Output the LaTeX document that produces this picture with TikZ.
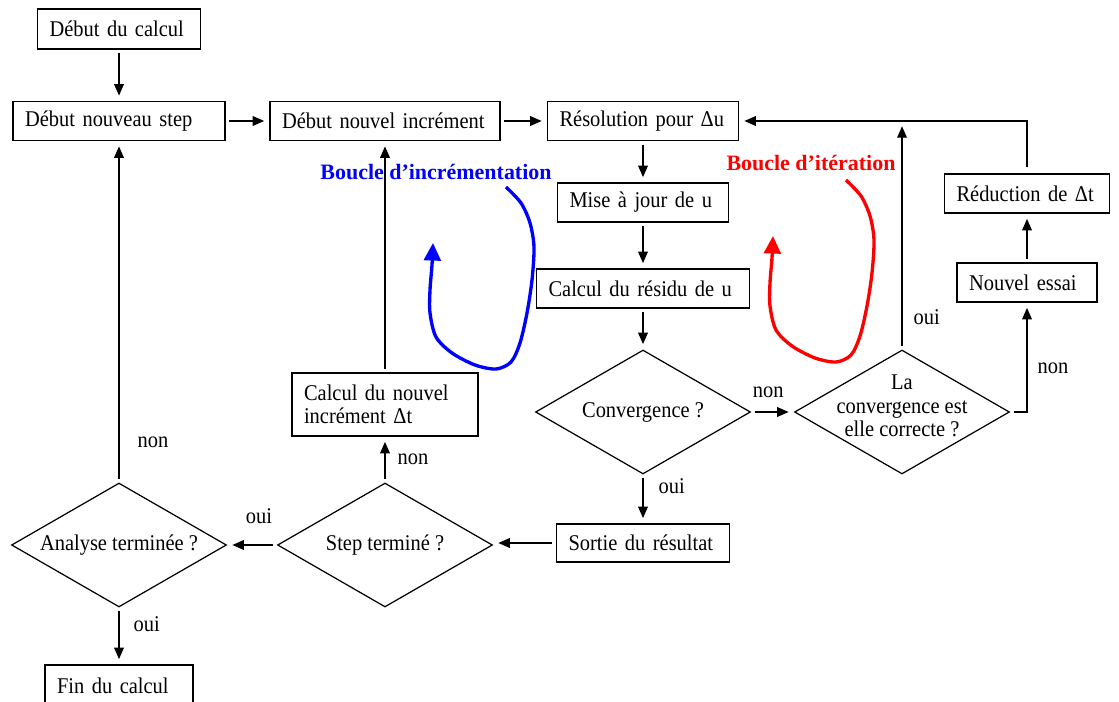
\documentclass[tikz,border=0pt]{standalone}
\usepackage{fontspec}
\setmainfont{Liberation Serif}[FakeStretch=0.91]
\newfontfamily\notefamily{Liberation Serif}
\usepackage{tikz}
\usetikzlibrary{shapes.geometric,arrows.meta,calc}
\usepackage{xcolor}
\tikzset{
  box/.style={draw,rectangle,text width=#1,align=left,inner xsep=0.24cm,inner ysep=2pt,minimum height=0.78cm},
  decision/.style={draw,diamond,shape aspect=1.73,inner sep=-6pt,minimum width=4.3cm,minimum height=2.48cm,align=center},
  lbl/.style={inner sep=2pt},
  loopnote/.style={font=\notefamily\fontsize{12.5pt}{14pt}\selectfont\bfseries,inner sep=0pt},
  loopline/.style={line width=1.9pt,-{Triangle[length=10pt,width=9.5pt]}},
  flow/.style={-{Triangle[length=6.5pt,width=5.5pt]},shorten >=3pt,shorten <=2pt},
  every edge/.style={draw,flow},
}

\begin{document}
\begin{tikzpicture}[x=0.02cm,y=-0.02cm,line width=0.7pt,font=\fontsize{12.8pt}{13.4pt}\selectfont]
\useasboundingbox (0,0) rectangle (1119,702);

\node[box=2.78cm,minimum height=0.8cm] (debut) at (119,29) {Début du calcul};
\node[box=3.76cm] (step) at (119,121) {Début nouveau step};
\node[box=4.12cm] (incr) at (385,121) {Début nouvel incrément};
\node[box=3.34cm] (resol) at (643,121) {Résolution pour Δu};
\node[box=2.94cm] (maj) at (643,202.5) {Mise à jour de u};
\node[box=3.78cm] (residu) at (643,288.5) {Calcul du résidu de u};
\node[decision] (conv) at (643,412) {Convergence ?};
\node[decision,label={[align=center,inner sep=0pt,yshift=3.4pt]center:La\\convergence est\\elle correcte ?}] (correct) at (902,412) {};
\node[box=2.32cm] (essai) at (1027,282.5) {Nouvel essai};
\node[box=2.82cm] (reduc) at (1027,193.5) {Réduction de Δt};
\node[box=2.98cm,minimum height=0.76cm] (sortie) at (643,543) {Sortie du résultat};
\node[decision] (stepterm) at (385,545) {Step terminé ?};
\node[box=3.24cm,minimum height=1.26cm] (nouvinc) at (385,404.5) {Calcul du nouvel\\incrément Δt};
\node[decision] (analyse) at (119,545) {Analyse terminée ?};
\node[box=2.48cm,minimum height=0.84cm] (fin) at (119,686) {Fin du calcul};
\coordinate (join) at (correct.north |- resol.east);

\node[loopnote,text=blue,anchor=base] (noteincr) at (436,180) {Boucle d’incrémentation};
\node[loopnote,text=red,anchor=base] (noteiter) at (811,171) {Boucle d’itération};

\path
(debut) edge (step)
(step) edge (incr)
(incr) edge (resol)
(resol) edge (maj)
(maj) edge (residu)
(residu) edge (conv)
(conv) edge node[lbl,above=6pt,pos=0.4] {non} (correct)
(conv) edge node[lbl,right=6.5pt,pos=0.23] {oui} (sortie)
(stepterm) edge node[lbl,above=10pt,pos=0.36] {oui} (analyse)
(analyse) edge node[lbl,right=6pt,pos=0.29] {oui} (fin)
(stepterm) edge node[lbl,right=4.8pt,pos=0.51] {non} (nouvinc)
(nouvinc) edge (incr)
(analyse) edge node[lbl,right=8.2pt,pos=0.117] {non} (step)
(essai) edge (reduc)
(correct) edge node[lbl,right=4.3pt,pos=0.14] {oui} (join);

\draw[flow] (sortie.west) -- (sortie.west -| stepterm.east);
\draw[flow] (correct.east) -| node[lbl,right=3.7pt,pos=0.7] {non} (essai.south);
\draw[flow,shorten <=3.4pt] (reduc.north) |- (resol.east);

\foreach \dx/\dy/\col in {0/0/blue,340/-7/red}
  \draw[loopline,\col,shift={(\dx,\dy)}] plot[smooth,tension=0.5] coordinates {(506,187) (521,203) (530,223) (534,247) (532,280) (527,313) (520,343) (511,362) (496,369) (475,365) (452,353) (436,337) (430,313) (430,290) (432,265) (433,243)};

\end{tikzpicture}
\end{document}
